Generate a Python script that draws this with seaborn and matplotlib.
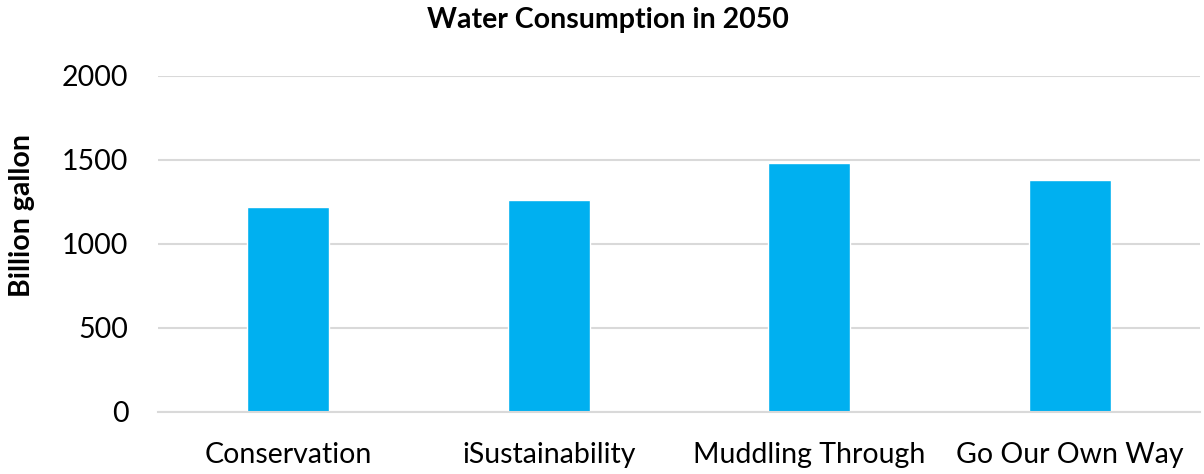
import matplotlib
matplotlib.use("Agg")
import matplotlib.pyplot as plt
import seaborn as sns
import pandas as pd

scenarios = ["Conservation", "iSustainability", "Muddling Through", "Go Our Own Way"]
consumption = [1220, 1260, 1480, 1380]
y_ticks = [0, 500, 1000, 1500, 2000]

sns.set_theme(style="white")
plt.rcParams["font.family"] = ["Lato", "DejaVu Sans"]
plt.rcParams["text.color"] = "black"
plt.rcParams["axes.labelcolor"] = "black"

df = pd.DataFrame({"scenario": scenarios, "consumption": consumption})

fig = plt.figure(figsize=(12.04, 4.74), dpi=100)
ax = fig.add_axes([0.131, 0.131, 0.866, 0.709])

sns.barplot(data=df, x="scenario", y="consumption", color="#00B0F0",
            saturation=1, width=0.314, ax=ax)

ax.set_ylim(0, 2000)
ax.set_yticks(y_ticks)
ax.set_xlim(-0.5, len(scenarios) - 0.5)
ax.yaxis.grid(True, color="#d9d9d9", linewidth=1.5)
ax.set_axisbelow(True)
for side in ["top", "right", "left"]:
    ax.spines[side].set_visible(False)
ax.spines["bottom"].set_color("#d9d9d9")
ax.spines["bottom"].set_linewidth(1.5)

ax.tick_params(axis="y", length=0, pad=21, labelsize=20.5, labelcolor="black")
ax.tick_params(axis="x", length=0, pad=22, labelsize=20.5, labelcolor="black")
ax.set_xlabel("")
ax.set_ylabel("Billion gallon", fontsize=20.5, fontweight="bold", color="black")
ax.yaxis.set_label_coords(-0.118, 0.583)
fig.suptitle("Water Consumption in 2050", fontsize=20.5, fontweight="bold",
             color="black", x=0.505, y=0.985)

fig.savefig("out.png", dpi=100)
